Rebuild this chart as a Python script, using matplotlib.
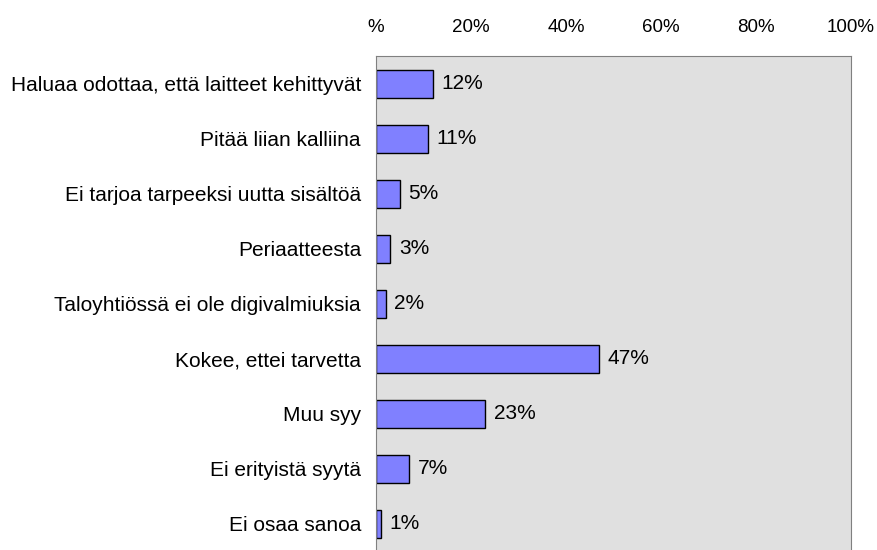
import matplotlib.pyplot as plt

plt.rcParams['font.family'] = ['Liberation Sans', 'DejaVu Sans']

categories = [
    "Haluaa odottaa, että laitteet kehittyvät",
    "Pitää liian kalliina",
    "Ei tarjoa tarpeeksi uutta sisältöä",
    "Periaatteesta",
    "Taloyhtiössä ei ole digivalmiuksia",
    "Kokee, ettei tarvetta",
    "Muu syy",
    "Ei erityistä syytä",
    "Ei osaa sanoa",
]
values = [12, 11, 5, 3, 2, 47, 23, 7, 1]
tick_values = [0, 20, 40, 60, 80, 100]
tick_labels = ["%", "20%", "40%", "60%", "80%", "100%"]

fig = plt.figure(figsize=(8.77, 5.5), dpi=100)
ax = fig.add_axes([376 / 877, -0.002, 475 / 877, 0.9])

ax.set_facecolor('#e0e0e0')
pos = list(range(len(categories)))
ax.barh(pos, values, height=0.51, color='#8080ff', edgecolor='black', linewidth=1)

for p, v in zip(pos, values):
    ax.text(v + 1.8, p, f"{v}%", va='center', ha='left', fontsize=15)

ax.set_xlim(0, 100)
ax.set_ylim(len(categories) - 0.5, -0.5)
ax.set_yticks(pos)
ax.set_yticklabels(categories, fontsize=15)
ax.set_xticks(tick_values)
ax.set_xticklabels(tick_labels, fontsize=13.5)
ax.xaxis.tick_top()
ax.tick_params(axis='x', length=0, pad=14.4)
ax.tick_params(axis='y', length=0, pad=10.8)
for side in ['top', 'right', 'left']:
    ax.spines[side].set_color('#808080')
ax.spines['bottom'].set_visible(False)

fig.savefig('out.png', dpi=100)
